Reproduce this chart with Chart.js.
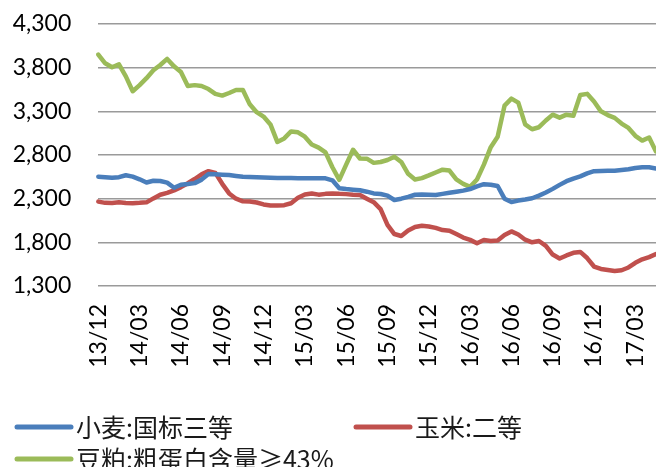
<!DOCTYPE html>
<html>
<head>
<meta charset="utf-8">
<script src="https://cdn.jsdelivr.net/npm/chart.js@4.4.1/dist/chart.umd.min.js"></script>
<style>
  html, body { margin: 0; padding: 0; background: #ffffff; }
  #wrap { width: 656px; height: 467px; position: relative; }
</style>
</head>
<body>
<div id="wrap"><canvas id="c" width="656" height="467"></canvas></div>
<script>
// ---- data ----
const seriesNames = ['小麦:国标三等', '玉米:二等', '豆粕:粗蛋白含量≥43%'];
const quarterTicks = ['13/12','14/03','14/06','14/09','14/12','15/03','15/06','15/09','15/12','16/03','16/06','16/09','16/12','17/03'];
const yTicks = [1300, 1800, 2300, 2800, 3300, 3800, 4300];

const wheat = [2552,2546,2540,2546,2568,2552,2522,2485,2505,2502,
  2483,2425,2460,2467,2478,2518,2583,2579,2575,2570,
  2560,2551,2548,2545,2542,2540,2538,2537,2536,2535,
  2535,2534,2534,2533,2510,2420,2410,2403,2396,2380,
  2360,2354,2335,2285,2300,2320,2345,2348,2345,2342,
  2355,2368,2380,2392,2410,2440,2466,2460,2445,2300,
  2262,2278,2290,2305,2335,2370,2412,2458,2500,2530,
  2555,2590,2615,2618,2619,2620,2628,2637,2652,2659,
  2659,2645];

const corn = [2266,2252,2250,2258,2250,2248,2252,2258,2303,2345,
  2366,2395,2432,2477,2525,2578,2615,2595,2470,2360,
  2300,2270,2268,2256,2234,2222,2222,2226,2248,2310,
  2348,2360,2346,2355,2360,2355,2352,2346,2342,2300,
  2260,2180,2000,1895,1873,1935,1975,1990,1982,1965,
  1940,1933,1895,1855,1828,1790,1826,1815,1822,1885,
  1925,1890,1830,1800,1815,1760,1660,1615,1650,1680,
  1690,1620,1523,1495,1483,1472,1480,1512,1565,1605,
  1630,1665];

const soymeal = [3950,3850,3805,3838,3700,3530,3600,3680,3770,3830,
  3900,3815,3750,3590,3600,3590,3555,3500,3480,3510,
  3545,3545,3380,3290,3240,3150,2950,2990,3070,3060,
  3010,2920,2885,2830,2660,2515,2690,2860,2760,2758,
  2710,2720,2743,2780,2720,2585,2520,2535,2566,2600,
  2632,2622,2520,2470,2435,2520,2690,2890,3010,3365,
  3445,3400,3150,3095,3118,3195,3262,3228,3262,3250,
  3487,3500,3412,3300,3257,3225,3160,3110,3020,2965,
  3000,2840];

// half-month periods starting 2013/12
const periods = [];
for (let m = 0; m < 41; m++) {
  const y = 13 + Math.floor((11 + m) / 12);
  const mo = ((11 + m) % 12) + 1;
  const s = String(y) + '/' + String(mo).padStart(2, '0');
  periods.push(s, s);
}

const colors = ['#4a7ebb', '#c0504d', '#9bbb59'];

const legendPlugin = {
  id: 'customLegend',
  afterDraw(chart) {
    const ctx = chart.ctx;
    ctx.save();
    ctx.font = '25px "Noto Sans CJK SC"';
    ctx.textBaseline = 'middle';
    ctx.textAlign = 'left';
    chart.data.datasets.forEach((ds, i) => {
      const col = i % 2, row = Math.floor(i / 2);
      const x = 17 + col * 339;
      const y = 427 + row * 32;
      ctx.strokeStyle = ds.borderColor;
      ctx.lineWidth = 5;
      ctx.lineCap = 'round';
      ctx.beginPath();
      ctx.moveTo(x, y);
      ctx.lineTo(x + 54, y);
      ctx.stroke();
      ctx.fillStyle = '#1a1a1a';
      ctx.fillText(ds.label, x + 59, y);
    });
    ctx.restore();
  }
};

const mk = (label, data, color) => ({
  label, data,
  borderColor: color,
  backgroundColor: color,
  borderWidth: 4.5,
  pointRadius: 0,
  tension: 0,
  borderJoinStyle: 'round',
  borderCapStyle: 'round',
  fill: false
});

new Chart(document.getElementById('c'), {
  type: 'line',
  data: {
    labels: periods,
    datasets: [
      mk(seriesNames[0], wheat, colors[0]),
      mk(seriesNames[1], corn, colors[1]),
      mk(seriesNames[2], soymeal, colors[2])
    ]
  },
  options: {
    responsive: false,
    animation: false,
    devicePixelRatio: 1,
    layout: { padding: { top: 24, right: 0, bottom: 81, left: 0 } },
    plugins: { legend: { display: false }, tooltip: { enabled: false } },
    scales: {
      x: {
        grid: { display: false, drawTicks: false },
        border: { display: false },
        ticks: {
          autoSkip: false,
          minRotation: 90,
          maxRotation: 90,
          padding: 18,
          color: '#000',
          font: { family: 'Lato', size: 23 },
          callback: (v, i) => (i % 6 === 0 ? quarterTicks[i / 6] : '')
        },
        afterFit(scale) { scale.height = 100; scale.paddingRight = 0; scale.paddingLeft = 0; }
      },
      y: {
        min: yTicks[0],
        max: yTicks[yTicks.length - 1],
        afterBuildTicks(scale) { scale.ticks = yTicks.map(v => ({ value: v })); },
        grid: { color: '#9a9a9a', lineWidth: 1.5, drawTicks: false },
        border: { display: false },
        ticks: {
          padding: 27,
          color: '#000',
          font: { family: 'Lato', size: 23 },
          callback: v => Number(v).toLocaleString('en-US')
        },
        afterFit(scale) { scale.width = 98.3; scale.paddingTop = 0; scale.paddingBottom = 0; }
      }
    }
  },
  plugins: [legendPlugin]
});
</script>
</body>
</html>
